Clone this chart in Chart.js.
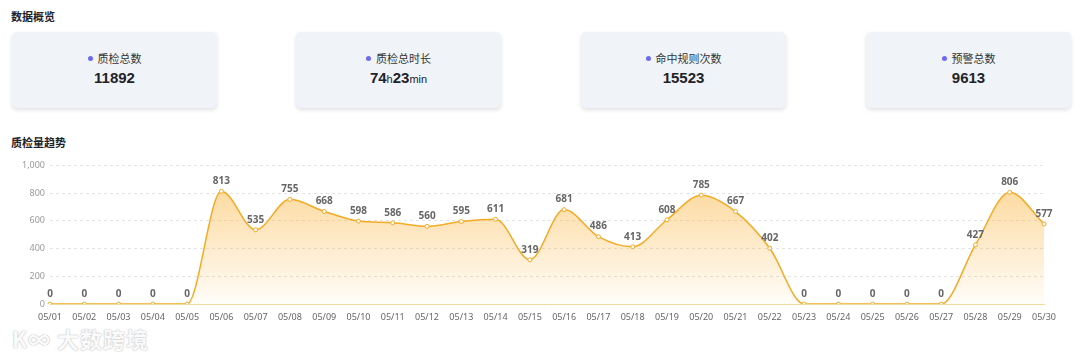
<!DOCTYPE html>
<html>
<head>
<meta charset="utf-8">
<script src="https://cdn.jsdelivr.net/npm/chart.js@4.4.1/dist/chart.umd.min.js"></script>
<style>
html,body{margin:0;padding:0;background:#fff;width:1080px;height:357px;overflow:hidden;font-family:"Noto Sans CJK SC","Noto Sans",sans-serif;}
.title{position:absolute;font-size:11px;font-weight:bold;color:#1f2329;}
.card{position:absolute;top:32px;width:205px;height:76px;background:#f0f3f8;border-radius:5px;box-shadow:0 2px 4px rgba(0,0,0,0.12);text-align:center;}
.lab{margin-top:19px;font-size:11px;color:#333;line-height:14px;}
.dot{display:inline-block;width:5px;height:5px;border-radius:50%;background:#6e6af0;margin-right:5px;vertical-align:middle;position:relative;top:-2px;}
.val{margin-top:4px;font-family:"Liberation Sans",Arial,sans-serif;font-size:15px;font-weight:bold;color:#1f2329;line-height:18px;}
.val small{font-size:11px;font-weight:normal;}
#wrap{position:absolute;left:10px;top:155px;width:1050px;height:165px;}
.wm{position:absolute;left:12px;top:322px;font-size:22px;color:#fafafa;font-weight:bold;text-shadow:0 0 1px #bbb,0 0 2px #ccc;letter-spacing:1px;}
</style>
</head>
<body>
<div class="title" style="left:11px;top:8px;">数据概览</div>
<div class="card" style="left:12px;"><div class="lab"><span class="dot"></span>质检总数</div><div class="val">11892</div></div>
<div class="card" style="left:296px;"><div class="lab"><span class="dot"></span>质检总时长</div><div class="val">74<small>h</small>23<small>min</small></div></div>
<div class="card" style="left:581px;"><div class="lab"><span class="dot"></span>命中规则次数</div><div class="val">15523</div></div>
<div class="card" style="left:866px;"><div class="lab"><span class="dot"></span>预警总数</div><div class="val">9613</div></div>
<div class="title" style="left:11px;top:134px;">质检量趋势</div>
<div id="wrap"><canvas id="c"></canvas></div>
<div class="wm">K∞ 大数跨境</div>
<script>
const categories = ["05/01","05/02","05/03","05/04","05/05","05/06","05/07","05/08","05/09","05/10","05/11","05/12","05/13","05/14","05/15","05/16","05/17","05/18","05/19","05/20","05/21","05/22","05/23","05/24","05/25","05/26","05/27","05/28","05/29","05/30"];
const inspections = [0,0,0,0,0,813,535,755,668,598,586,560,595,611,319,681,486,413,608,785,667,402,0,0,0,0,0,427,806,577];
const yMax = 1000;
const yStep = 200;

const labelPlugin = {
  id:'valLabels',
  afterDatasetsDraw(chart){
    const ctx = chart.ctx;
    const meta = chart.getDatasetMeta(0);
    ctx.save();
    ctx.font = 'bold 10px "Noto Sans", sans-serif';
    ctx.fillStyle = '#666';
    ctx.textAlign = 'center';
    ctx.textBaseline = 'bottom';
    meta.data.forEach((pt,i)=>{
      ctx.fillText(String(inspections[i]), pt.x, pt.y - 5);
    });
    ctx.restore();
  }
};

const ctx = document.getElementById('c').getContext('2d');
new Chart(ctx,{
  type:'line',
  data:{
    labels:categories,
    datasets:[{
      data:inspections,
      borderColor:'#f5aa24',
      borderWidth:1.5,
      cubicInterpolationMode:'monotone',
      fill:'origin',
      backgroundColor:(c)=>{
        const a = c.chart.chartArea;
        if(!a) return 'rgba(250,180,60,0.3)';
        const g = c.chart.ctx.createLinearGradient(0,a.top,0,a.bottom);
        g.addColorStop(0,'rgba(250,175,50,0.55)');
        g.addColorStop(1,'rgba(250,175,50,0.03)');
        return g;
      },
      pointRadius:2,
      pointBorderWidth:1,
      pointBackgroundColor:'#fff',
      pointBorderColor:'#f5aa24'
    }]
  },
  options:{
    responsive:true,
    maintainAspectRatio:false,
    animation:false,
    layout:{padding:{top:8,right:16,left:0,bottom:0}},
    plugins:{legend:{display:false},tooltip:{enabled:false}},
    scales:{
      x:{
        offset:false,
        grid:{display:false},
        border:{display:true,color:'#f5d7a0'},
        ticks:{color:'#666',font:{size:9,family:'"Noto Sans", sans-serif'},padding:0,maxRotation:0,autoSkip:false},
        afterFit(s){s.height=16;}
      },
      y:{
        min:0,max:yMax,
        ticks:{stepSize:yStep,color:'#999',font:{size:9,family:'"Noto Sans", sans-serif'},padding:5},
        grid:{color:'#e3e3e3',drawTicks:false},
        border:{display:false,dash:[3,3]},
        afterFit(s){s.width=40;}
      }
    }
  },
  plugins:[labelPlugin]
});
</script>
</body>
</html>
